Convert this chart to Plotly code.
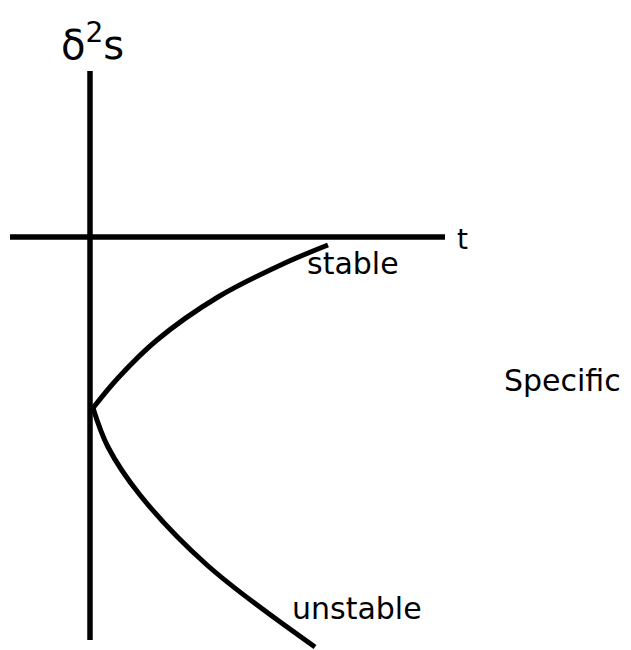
import plotly.graph_objects as go

# axes of the sketch (data units: t across, delta^2 S up)
t_axis_t = [-0.81, 3.54]
t_axis_s = [0.0, 0.0]
s_axis_t = [-0.01, -0.01]
s_axis_s = [1.66, -4.03]

# stable branch (upper)
stable_t = [0.02, 0.27, 0.66, 1.27, 1.94, 2.37]
stable_s = [-1.71, -1.41, -1.03, -0.60, -0.26, -0.08]

# unstable branch (lower)
unstable_t = [0.02, 0.17, 0.49, 1.16, 2.24]
unstable_s = [-1.71, -2.10, -2.58, -3.28, -4.10]

labels = ["δ<sup>2</sup>s", "t", "stable", "unstable", "Specific"]
label_t = [0.01, 3.71, 2.62, 2.66, 4.71]
label_s = [1.95, -0.02, -0.26, -3.71, -1.43]
label_size = [40, 28, 30, 30, 30]

FONT = "DejaVu Sans"

fig = go.Figure()
for xs, ys in [(t_axis_t, t_axis_s), (s_axis_t, s_axis_s)]:
    fig.add_trace(go.Scatter(x=xs, y=ys, mode="lines",
                             line=dict(color="black", width=5.5), hoverinfo="skip"))
for xs, ys in [(stable_t, stable_s), (unstable_t, unstable_s)]:
    fig.add_trace(go.Scatter(x=xs, y=ys, mode="lines",
                             line=dict(color="black", width=5, shape="spline",
                                       smoothing=1),
                             hoverinfo="skip"))

for txt, x, y, sz in zip(labels, label_t, label_s, label_size):
    fig.add_annotation(x=x, y=y, text=txt, showarrow=False,
                       font=dict(family=FONT, size=sz, color="black"),
                       xanchor="center", yanchor="middle")

# page body has an 8px margin, so the figure is 8px smaller and ranges start there
fig.update_layout(
    width=623, height=642,
    margin=dict(l=0, r=0, t=0, b=0),
    paper_bgcolor="white", plot_bgcolor="white",
    showlegend=False,
    xaxis=dict(range=[-0.83, 5.40], visible=False, fixedrange=True),
    yaxis=dict(range=[-4.13, 2.29], visible=False, fixedrange=True),
)

fig.write_html("out.html")
